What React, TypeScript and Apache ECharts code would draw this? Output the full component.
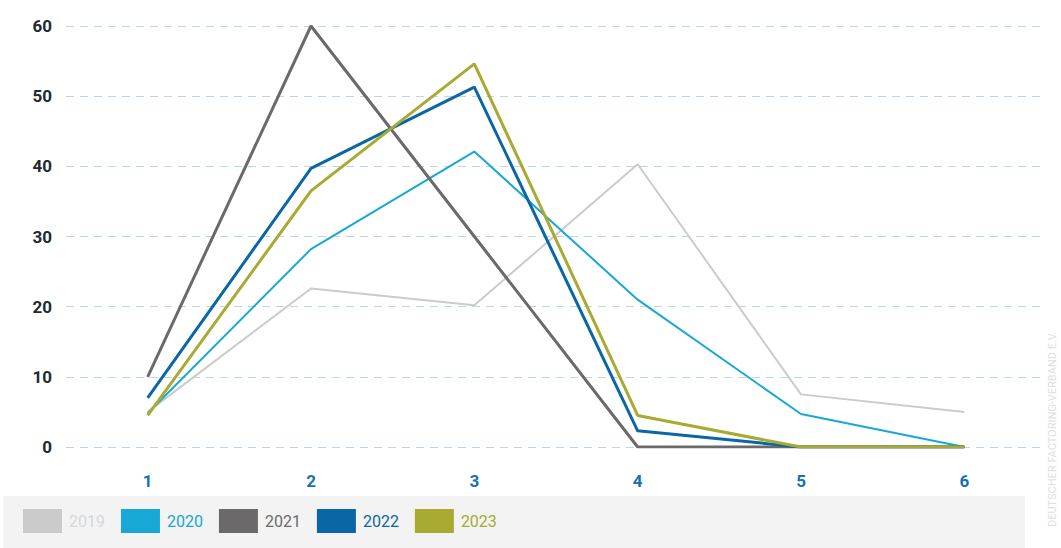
import React, { useEffect, useRef } from "react";
import * as echarts from "echarts";

const categories = ["1", "2", "3", "4", "5", "6"];
const seriesNames = ["2019", "2020", "2021", "2022", "2023"];
const values2019 = [5, 22.6, 20.2, 40.3, 7.5, 5];
const values2020 = [4.8, 28.2, 42.1, 21, 4.7, 0];
const values2021 = [10, 60, 30, 0, 0, 0];
const values2022 = [7, 39.7, 51.3, 2.3, 0, 0];
const values2023 = [4.5, 36.5, 54.6, 4.5, 0, 0];
const yTicks = [0, 10, 20, 30, 40, 50, 60];

const colors = ["#cbcbcb", "#17a8d5", "#6b6969", "#0b66a6", "#a8aa32"];
const widths = [2, 2, 3, 3, 3];

export default function App() {
  const ref = useRef<HTMLDivElement>(null);
  useEffect(() => {
    if (!ref.current) return;
    const chart = echarts.init(ref.current, null, { renderer: "svg" });
    const data = [values2019, values2020, values2021, values2022, values2023];
    chart.setOption({
      animation: false,
      grid: { left: 66, right: 15, top: 26, bottom: 101 },
      graphic: [
        {
          type: "rect",
          left: 3,
          top: 496,
          shape: { width: 1022, height: 52 },
          style: { fill: "#f3f3f3" },
          z: -10,
        },
        {
          type: "text",
          x: 1047,
          y: 527,
          rotation: Math.PI / 2,
          style: {
            text: "DEUTSCHER FACTORING-VERBAND E.V.",
            fill: "#dedede",
            font: "11px 'Roboto', sans-serif",
          },
        },
      ],
      legend: {
        left: 23,
        top: 509,
        padding: 0,
        itemWidth: 39,
        itemHeight: 24,
        itemGap: 16,
        icon: "rect",
        data: seriesNames.map((n, i) => ({
          name: n,
          textStyle: { color: i === 0 ? "#d3d8dc" : colors[i] },
          itemStyle: { color: colors[i] },
        })),
        textStyle: { fontSize: 16, fontFamily: "Roboto", padding: [0, 0, 0, 2] },
      },
      xAxis: {
        type: "category",
        data: categories,
        boundaryGap: true,
        axisLine: { show: false },
        axisTick: { show: false },
        axisLabel: {
          color: "#1571b5",
          fontSize: 17,
          fontWeight: "bold",
          fontFamily: "Roboto",
          margin: 25,
        },
      },
      yAxis: {
        type: "value",
        min: 0,
        max: 60,
        interval: 10,
        axisLine: { show: false },
        axisTick: { show: false },
        axisLabel: {
          color: "#1e2a30",
          fontSize: 17,
          fontWeight: "bold",
          fontFamily: "Roboto",
          margin: 14,
          formatter: (v: number) => (yTicks.includes(v) ? String(v) : ""),
        },
        splitLine: {
          lineStyle: { color: "#bdd6e2", type: [8, 6], width: 1.2 },
        },
      },
      series: seriesNames.map((n, i) => ({
        name: n,
        type: "line",
        data: data[i],
        symbol: "none",
        lineStyle: { color: colors[i], width: widths[i] },
        itemStyle: { color: colors[i] },
        z: 2 + i,
      })),
    });
    return () => chart.dispose();
  }, []);
  return (
    <div
      ref={ref}
      style={{ position: "absolute", left: 0, top: 0, width: 1061, height: 548, background: "#fff" }}
    />
  );
}
